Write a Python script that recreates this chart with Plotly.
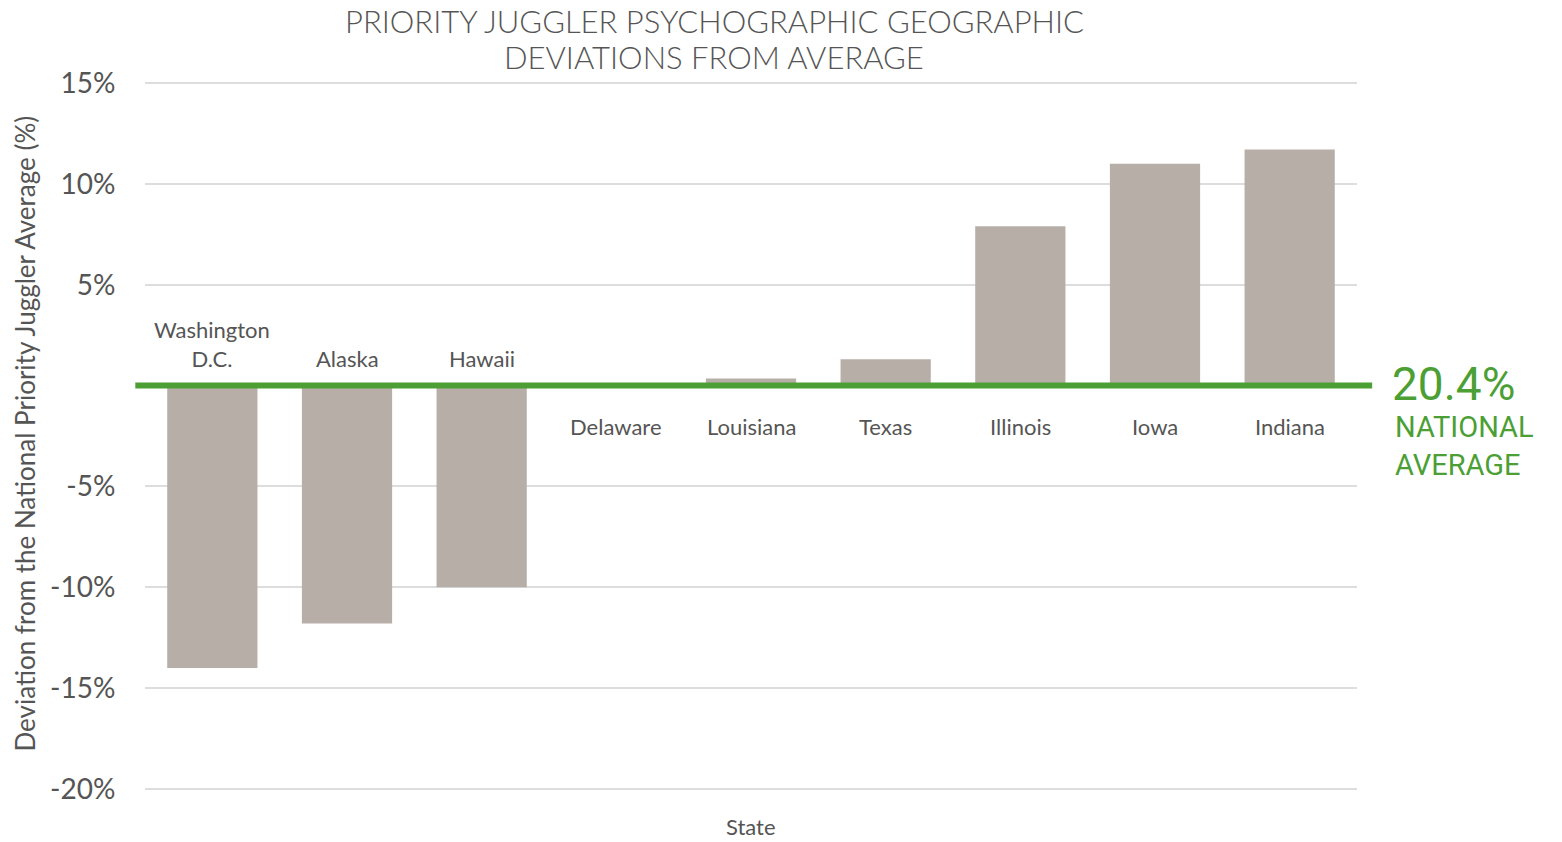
import plotly.graph_objects as go

# Data
states = ["Washington D.C.", "Alaska", "Hawaii", "Delaware", "Louisiana",
          "Texas", "Illinois", "Iowa", "Indiana"]
state_labels = ["Washington<br>D.C.", "Alaska", "Hawaii", "Delaware", "Louisiana",
                "Texas", "Illinois", "Iowa", "Indiana"]
deviation = [-14.0, -11.8, -10.0, 0.0, 0.35, 1.3, 7.9, 11.0, 11.7]
tick_vals = [-20, -15, -10, -5, 5, 10, 15]
tick_text = ["-20%", "-15%", "-10%", "-5%", "5%", "10%", "15%"]
national_avg = "20.4%"
title_lines = ["PRIORITY JUGGLER PSYCHOGRAPHIC GEOGRAPHIC", "DEVIATIONS FROM AVERAGE"]

GREY = "#555555"
GREEN = "#4C9F35"
BAR = "#B8AEA8"

fig = go.Figure()

fig.add_trace(go.Bar(
    x=states,
    y=deviation,
    marker_color=BAR,
    marker_line_width=0,
    hovertemplate="%{x}: %{y:.1f}%<extra></extra>",
))

# Category labels sit above the line for negative bars, below otherwise
for name, label, val in zip(states, state_labels, deviation):
    below = val >= 0
    fig.add_annotation(
        x=name, y=0, xref="x", yref="y",
        text=label, showarrow=False,
        font=dict(family="Lato", size=22, color=GREY),
        yanchor="top" if below else "bottom",
        yshift=-25 if below else 12,
    )

# National average reference line
fig.add_shape(
    type="line", xref="paper", yref="y",
    x0=-0.008, x1=1.0125, y0=0, y1=0,
    line=dict(color=GREEN, width=6),
)

fig.add_annotation(
    x=1, y=0, xref="paper", yref="y",
    text=national_avg, showarrow=False,
    xanchor="left", yanchor="middle", xshift=33, yshift=2,
    font=dict(family="Roboto", size=46, color=GREEN),
)
fig.add_annotation(
    x=1, y=0, xref="paper", yref="y",
    text="NATIONAL<br>AVERAGE", showarrow=False, align="left",
    xanchor="left", yanchor="middle", xshift=36, yshift=-60,
    font=dict(family="Roboto", size=29, color=GREEN),
)

# Title, one annotation per line to control the line spacing
for i, line in enumerate(title_lines):
    fig.add_annotation(
        x=(714 - 145) / 1212, y=1, xref="paper", yref="paper",
        text=line, showarrow=False,
        yanchor="middle", yshift=(83 - 22) - 36 * i,
        font=dict(family="Lato", size=31, color=GREY, weight=300),
    )

# Axis titles
fig.add_annotation(
    x=0.5, y=0, xref="paper", yref="paper",
    text="State", showarrow=False,
    yanchor="middle", yshift=-36,
    font=dict(family="Lato", size=22, color=GREY),
)
fig.add_annotation(
    x=0, y=0.5035, xref="paper", yref="paper",
    text="Deviation from the National Priority Juggler Average (%)",
    showarrow=False, textangle=-90,
    xanchor="center", xshift=-120,
    font=dict(family="Lato", size=26, color=GREY),
)

fig.update_xaxes(
    showticklabels=False,
    showgrid=False,
    zeroline=False,
    showline=False,
    range=[-0.5, 8.5],
)
fig.update_yaxes(
    range=[-20.05, 15.05],
    tickvals=tick_vals,
    ticktext=tick_text,
    tickfont=dict(family="Lato", size=28, color=GREY),
    gridcolor="#DDDDDD",
    gridwidth=2,
    zeroline=False,
    showline=False,
    ticks="outside",
    ticklen=23,
    tickcolor="rgba(0,0,0,0)",
)

fig.update_layout(
    width=1562,
    height=842,
    margin=dict(l=145, r=205, t=82, b=52, autoexpand=False),
    plot_bgcolor="white",
    paper_bgcolor="white",
    bargap=0.33,
    showlegend=False,
)

fig.write_html(
    "out.html",
    config={"displayModeBar": False},
    post_script="document.body.style.margin='0';",
)
